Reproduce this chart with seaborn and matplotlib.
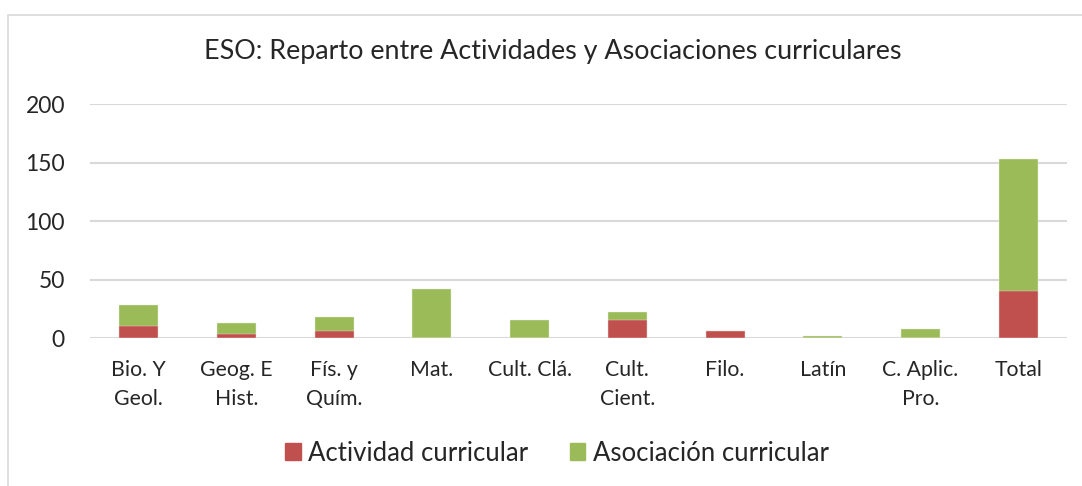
import numpy as np
import pandas as pd
import seaborn as sns
import matplotlib.pyplot as plt
from matplotlib.patches import Rectangle, Patch

categorias = ["Bio. Y\nGeol.", "Geog. E\nHist.", "Fís. y\nQuím.", "Mat.", "Cult. Clá.",
              "Cult.\nCient.", "Filo.", "Latín", "C. Aplic.\nPro.", "Total"]
actividad = [10, 3, 6, 0, 0, 15, 6, 0, 0, 40]
asociacion = [18, 10, 12, 42, 15, 7, 0, 1.5, 8, 113]

rojo = "#C0504D"
verde = "#9BBB59"
gris = "#D9D9D9"

sns.set_style("white")
plt.rcParams["font.family"] = ["Lato", "DejaVu Sans"]

df = pd.DataFrame({"cat": categorias, "act": actividad, "asoc": asociacion})
df["total"] = df["act"] + df["asoc"]

fig = plt.figure(figsize=(10.82, 4.86), dpi=100)
ax = fig.add_axes([90 / 1082, 1 - 338 / 486, 977 / 1082, 234 / 486])

# verde = total, rojo encima desde la base
sns.barplot(data=df, x="cat", y="total", color=verde, width=0.4, ax=ax,
            edgecolor="#E6EEDA", linewidth=0.3, saturation=1)
sns.barplot(data=df, x="cat", y="act", color=rojo, width=0.4, ax=ax,
            edgecolor="#F0DCDB", linewidth=0.3, saturation=1)

ax.set_ylim(0, 200)
ax.set_yticks([0, 50, 100, 150, 200])
ax.yaxis.grid(True, color=gris, linewidth=1.5)
ax.set_axisbelow(True)
for s in ax.spines.values():
    s.set_visible(False)
ax.set_xlabel("")
ax.set_ylabel("")
ax.tick_params(axis="y", labelsize=16.5, length=0, pad=18)
ax.tick_params(axis="x", labelsize=15.3, length=0, pad=16)
for t in ax.get_xticklabels():
    t.set_linespacing(1.55)
ax.set_xlim(-0.5, len(categorias) - 0.5)

fig.text(553 / 1082, 1 - 52 / 486, "ESO: Reparto entre Actividades y Asociaciones curriculares",
         ha="center", va="center", fontsize=19.4)

handles = [Patch(color=rojo, label="Actividad curricular"),
           Patch(color=verde, label="Asociación curricular")]
fig.legend(handles=handles, loc="center", bbox_to_anchor=(557 / 1082, 1 - 453 / 486),
           ncol=2, frameon=False, fontsize=18.5, handlelength=0.6, handleheight=0.6,
           handletextpad=0.3, columnspacing=1.6)

fig.patches.append(Rectangle((8 / 1082, -0.01), 1.1, 1 - 15 / 486 + 0.01,
                             transform=fig.transFigure, fill=False,
                             edgecolor=gris, linewidth=1.2))

fig.savefig("out.png", dpi=100)
